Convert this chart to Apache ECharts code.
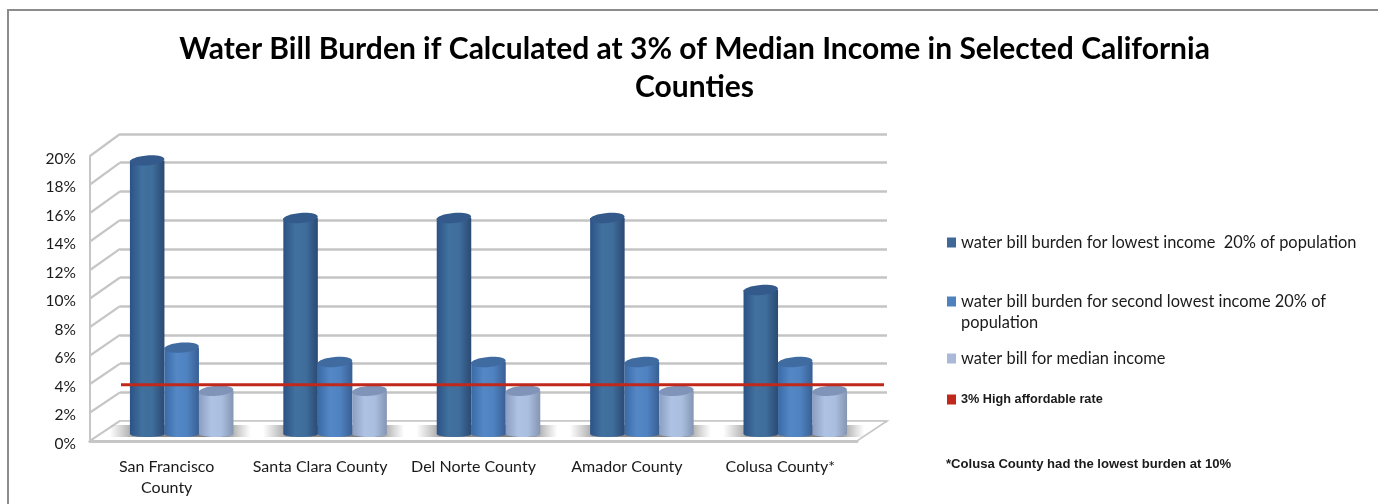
<!DOCTYPE html>
<html><head><meta charset="utf-8">
<style>html,body{margin:0;padding:0;background:#fff}#c{width:1378px;height:504px}</style>
<script src="https://cdn.jsdelivr.net/npm/echarts@6/dist/echarts.min.js"></script>
</head><body><div id="c"></div>
<script>
const categories = ['San Francisco\nCounty','Santa Clara County','Del Norte County','Amador County','Colusa County*'];
const lowestIncome = [19,15,15,15,10];
const secondLowest = [6,5,5,5,5];
const medianIncome = [3,3,3,3,3];
const affordableRate = [3,3];
const ratePositions = [0,1];
const wallTicks = [0,2,4,6,8,10,12,14,16,18,20];
const seriesNames = ['water bill burden for lowest income  20% of population','water bill burden for second lowest income 20% of\npopulation','water bill for median income','3% High affordable rate'];
const titleText = 'Water Bill Burden if Calculated at 3% of Median Income in Selected California\nCounties';
const noteText = '*Colusa County had the lowest burden at 10%';

const DX=30;
const font='Lato';
const skins=[
 {legend:'#3f6897',top:'#335a8a',stops:['#2c5285','#41719f','#3f6d9c','#2b4a73']},
 {legend:'#4f81bd',top:'#3f6ba1',stops:['#3a6aa6','#5387c6','#4f82c0','#395f94']},
 {legend:'#aab9d8',top:'#8093b8',stops:['#8b9ec2','#aec2e3','#aabfe0','#8595b2']}
];
function grad(s){return {type:'linear',x:0,y:0,x2:1,y2:0,colorStops:[{offset:0,color:s[0]},{offset:.35,color:s[1]},{offset:.65,color:s[2]},{offset:1,color:s[3]}]};}
function cylinder(k){
  return function(params,api){
    const idx=api.value(0), v=api.value(1);
    const band=api.size([1,0])[0];
    const w=band*0.225;
    const c=api.coord([idx,v]), b=api.coord([idx,0]);
    const cx=c[0]+(k-1)*w, rx=w/2, ry=5;
    const g=grad(skins[k].stops);
    return {type:'group',children:[
      {type:'rect',shape:{x:cx-rx,y:c[1],width:w,height:b[1]-c[1]},style:{fill:g}},
      {type:'ellipse',shape:{cx:cx,cy:b[1],rx:rx,ry:3},style:{fill:g}},
      {type:'ellipse',shape:{cx:cx,cy:c[1],rx:rx,ry:ry},rotation:0.08,originX:cx,originY:c[1],style:{fill:skins[k].top}}
    ]};
  };
}
function barSeries(k,name,data){
  return {name,type:'custom',xAxisIndex:2,yAxisIndex:2,z:5+k,silent:true,
    itemStyle:{color:skins[k].legend},
    encode:{x:0,y:1},data:data.map((v,i)=>[i,v]),renderItem:cylinder(k)};
}
const walls={type:'custom',xAxisIndex:0,yAxisIndex:0,z:1,silent:true,
  data:wallTicks.map(v=>[0,v]),encode:{x:0,y:1},
  renderItem(params,api){
    const v=api.value(1), p=api.coord([0,v]), x=params.coordSys.x, dy=-20-0.1*v;
    return {type:'line',shape:{x1:x,y1:p[1],x2:x+DX,y2:p[1]+dy},style:{stroke:'#c6c6c6',lineWidth:2.2}};
  }};
const floor={type:'custom',xAxisIndex:0,yAxisIndex:0,z:2,silent:true,
  data:[[0,0]],encode:{x:0,y:1},
  renderItem(params,api){
    const r=params.coordSys, y=api.coord([0,0])[1];
    return {type:'polygon',shape:{points:[[r.x,y],[r.x+r.width,y],[r.x+r.width+DX,y-20],[r.x+DX,y-20]]},
      style:{fill:'#fff',stroke:'#c6c6c6',lineWidth:1.6}};
  }};
const shadows={type:'custom',xAxisIndex:2,yAxisIndex:2,z:3,silent:true,
  data:categories.map((c,i)=>[i,0]),encode:{x:0,y:1},
  renderItem(params,api){
    const p=api.coord([api.value(0),0]), band=api.size([1,0])[0];
    return {type:'rect',shape:{x:p[0]-band*0.47,y:p[1]-9,width:band*0.92,height:12},
      style:{fill:{type:'linear',x:0,y:0,x2:1,y2:0,colorStops:[
        {offset:0,color:'rgba(140,140,140,0)'},{offset:.2,color:'rgba(125,125,125,.85)'},
        {offset:.8,color:'rgba(110,110,110,.9)'},{offset:1,color:'rgba(140,140,140,0)'}]}}};
  }};
const rate={name:seriesNames[3],type:'line',xAxisIndex:3,yAxisIndex:3,z:20,silent:true,showSymbol:false,
  itemStyle:{color:'#c0281c'},lineStyle:{color:'#c0281c',width:3},
  data:ratePositions.map((x,i)=>[x,affordableRate[i]])};

const chart=echarts.init(document.getElementById('c'),null,{renderer:'canvas'});
function leg(i,left,top,fs,opts,fmt){
  const o={data:[{name:seriesNames[i],icon:'rect'}],left,top,padding:0,itemWidth:9,itemHeight:10,selectedMode:false,
    textStyle:Object.assign({fontFamily:font,fontSize:fs,color:'#1a1a1a'},opts||{})};
  if(fmt) o.formatter=fmt;
  return o;
}
const boldFont='Liberation Sans';
chart.setOption({
  animation:false,backgroundColor:'#fff',
  title:[
    {text:titleText,left:694.5,top:30,textAlign:'center',padding:0,textStyle:{fontFamily:font,fontWeight:'bold',fontSize:30,lineHeight:38,color:'#000'}},
    {text:noteText,left:946,top:458,padding:0,textStyle:{fontFamily:boldFont,fontWeight:'bold',fontSize:13.1,color:'#1a1a1a'}}
  ],
  graphic:[{type:'rect',silent:true,z:-1,shape:{x:8,y:10,width:1400,height:520},style:{fill:'#fff',stroke:'#8c8c8c',lineWidth:2}}],
  legend:[
    leg(0,947,234.5,16.4),
    leg(1,947,270,16.4,{lineHeight:21},n=>'\u00a0\n'+n),
    leg(2,947,350.5,16.4),
    leg(3,947,393,12.7,{fontFamily:boldFont,fontWeight:'bold'})
  ],
  grid:[
    {left:90,right:1378-857,top:156,height:285},
    {left:120,right:1378-887,top:134,height:287},
    {left:105,right:1378-872,top:146,height:288},
    {left:121,right:1378-884,top:142,height:285.5}
  ],
  xAxis:[
    {type:'category',gridIndex:0,data:categories,z:4,axisTick:{show:false},axisLine:{lineStyle:{color:'#c6c6c6',width:3}},
      axisLabel:{fontFamily:font,fontSize:16,color:'#1a1a1a',margin:15,lineHeight:21,interval:0}},
    {type:'category',gridIndex:1,data:categories,show:false},
    {type:'category',gridIndex:2,data:categories,show:false},
    {type:'value',gridIndex:3,min:0,max:1,show:false}
  ],
  yAxis:[
    {type:'value',gridIndex:0,min:0,max:20,interval:2,splitLine:{show:false},axisTick:{show:false},
      axisLine:{show:true,lineStyle:{color:'#c6c6c6',width:2}},
      axisLabel:{color:'#1a1a1a',margin:14,formatter:'{t|{value}%}',
        rich:{t:{fontFamily:font,fontSize:15.5,color:'#1a1a1a',padding:[5,0,0,0]}}}},
    {type:'value',gridIndex:1,min:0,max:20,interval:2,axisLine:{show:false},axisTick:{show:false},axisLabel:{show:false},
      splitLine:{lineStyle:{color:'#c4c4c4',width:2.6}}},
    {type:'value',gridIndex:2,min:0,max:20,show:false,splitLine:{show:false}},
    {type:'value',gridIndex:3,min:0,max:20,show:false,splitLine:{show:false}}
  ],
  series:[walls,floor,shadows,
    barSeries(0,seriesNames[0],lowestIncome),
    barSeries(1,seriesNames[1],secondLowest),
    barSeries(2,seriesNames[2],medianIncome),
    rate]
});
</script></body></html>
